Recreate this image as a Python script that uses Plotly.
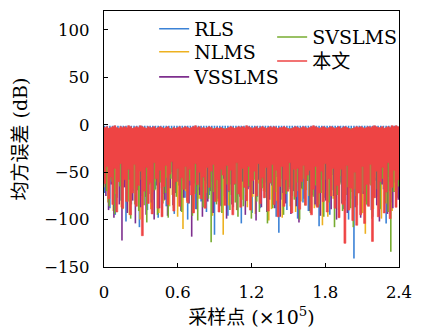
import plotly.graph_objects as go

# Sample axis in units of 1e5 samples
X_MAX = 2.4

# Series names and colours
names = ["RLS", "NLMS", "VSSLMS", "SVSLMS", "本文"]
colors = ["#3b82d6", "#edb120", "#7e2f8e", "#77ac30", "#ee4444"]

# Upper level of each trace (dB)
rls_top = -1.0
nlms_top = -4.0
vsslms_top = -4.0
svslms_top = -4.0

# Per-sample lower excursions of the mean-square error (dB)
rls_low = [
    -72, -55, -88, -63, -95, -48, -80, -66, -102, -58,
    -84, -70, -52, -108, -75, -61, -90, -57, -79, -68,
    -98, -54, -73, -86, -62, -50, -94, -71, -83, -59,
    -77, -100, -64, -53, -89, -69, -81, -56, -92, -74,
    -60, -116, -67, -85, -51, -78, -96, -63, -87, -55,
    -72, -104, -58, -80, -66, -93, -49, -76, -88, -62,
    -61, -70, -57, -84, -97, -114, -79, -52, -90, -68,
    -75, -59, -99, -65, -82, -54, -91, -71, -63, -86,
    -107, -58, -77, -69, -95, -53, -83, -72, -61, -89,
    -74, -100, -66, -141, -80, -57, -92, -70, -85, -63,
    -97, -59, -76, -88, -68, -104, -55, -82, -71, -62,
]
nlms_low = [
    -66, -82, -58, -91, -73, -50, -87, -62, -78, -95,
    -57, -84, -69, -100, -63, -76, -54, -89, -71, -60,
    -93, -67, -80, -56, -86, -74, -61, -97, -52, -110,
    -70, -83, -59, -92, -65, -78, -55, -88, -72, -64,
    -96, -60, -81, -68, -116, -57, -85, -74, -63, -90,
    -53, -79, -66, -87, -58, -76, -94, -62, -83, -70,
    -71, -101, -89, -67, -80, -60, -98, -73, -55, -86,
    -64, -92, -70, -81, -57, -69, -75, -63, -88, -59,
    -84, -106, -72, -97, -61, -78, -66, -90, -54, -82,
    -74, -62, -71, -68, -85, -58, -93, -115, -80, -64,
    -89, -56, -76, -99, -67, -83, -60, -91, -70, -77,
]
vsslms_low = [
    -75, -90, -63, -98, -71, -84, -122, -66, -93, -58,
    -80, -104, -69, -87, -61, -95, -73, -82, -100, -64,
    -88, -56, -79, -96, -67, -85, -72, -60, -91, -77,
    -68, -83, -118, -62, -89, -74, -97, -59, -81, -70,
    -93, -65, -78, -86, -57, -99, -71, -84, -63, -90,
    -76, -60, -95, -68, -82, -73, -101, -58, -87, -66,
    -92, -79, -64, -88, -55, -97, -72, -83, -61, -94,
    -70, -86, -103, -67, -78, -59, -91, -74, -84, -62,
    -96, -69, -80, -57, -89, -75, -100, -65, -83, -71,
    -93, -60, -78, -87, -66, -98, -73, -81, -58, -90,
    -68, -85, -102, -63, -77, -94, -70, -88, -61, -79,
]
svslms_low = [
    -70, -86, -60, -94, -77, -65, -89, -55, -81, -99,
    -67, -74, -91, -58, -85, -103, -63, -79, -69, -95,
    -61, -83, -72, -98, -57, -88, -76, -64, -92, -68,
    -80, -59, -96, -73, -101, -66, -87, -62, -78, -124,
    -71, -84, -56, -93, -75, -63, -90, -69, -82, -97,
    -60, -86, -74, -65, -99, -58, -81, -92, -67, -77,
    -104, -62, -88, -71, -83, -57, -95, -73, -66, -90,
    -79, -61, -100, -68, -85, -59, -93, -76, -64, -87,
    -72, -97, -58, -82, -69, -108, -74, -63, -91, -80,
    -66, -88, -108, -75, -60, -94, -70, -84, -62, -99,
    -77, -68, -89, -57, -83, -92, -134, -71, -86, -65,
]
proposed_top = [
    -3, -2, -4, -3, -2, -1, -3, -4, -2, -3,
    -2, -3, -1, -2, -4, -3, -2, -3, -1, -2,
    -3, -4, -2, -3, -3, -2, -4, -3, -2, -3,
    -4, -3, -2, -4, -5, -3, -4, -3, -2, -4,
    -3, -2, -3, -4, -3, -2, -1, -3, -2, -4,
    -3, -4, -3, -2, -3, -5, -4, -3, -4, -3,
    -4, -5, -4, -3, -2, -3, -4, -3, -2, -3,
    -2, -3, -1, -2, -3, -4, -3, -2, -4, -3,
    -2, -3, -4, -3, -2, -3, -2, -3, -4, -3,
    -3, -2, -3, -4, -5, -4, -3, -2, -3, -4,
    -3, -2, -3, -4, -3, -2, -1, -2, -3, -4,
    -3, -2, -3, -4, -3, -2, -3, -4, -3, -2,
    -4, -3, -2, -3, -4, -5, -4, -3, -2, -3,
    -2, -3, -4, -3, -2, -3, -2, -1, -2, -3,
    -3, -2, -4, -3, -2, -3, -1, -2, -1, -2,
]
proposed_low = [
    -62, -44, -78, -55, -84, -46, -92, -60, -41, -88,
    -58, -81, -47, -95, -72, -42, -86, -64, -49, -117,
    -70, -45, -83, -61, -94, -40, -57, -88, -48, -97,
    -65, -43, -84, -52, -39, -91, -60, -46, -86, -56,
    -68, -44, -82, -47, -74, -93, -41, -63, -50, -78,
    -55, -88, -45, -66, -49, -42, -81, -58, -92, -47,
    -53, -85, -43, -69, -48, -95, -62, -40, -73, -87,
    -46, -66, -80, -44, -90, -59, -49, -75, -41, -83,
    -56, -77, -45, -91, -61, -42, -84, -48, -97, -65,
    -44, -86, -58, -70, -40, -93, -47, -76, -46, -89,
    -60, -43, -85, -53, -48, -95, -68, -44, -87, -72,
    -49, -81, -41, -92, -57, -75, -46, -88, -64, -98,
    -47, -84, -125, -43, -90, -67, -101, -50, -106, -72,
    -95, -44, -104, -63, -86, -42, -123, -77, -49, -97,
    -60, -45, -93, -71, -40, -99, -66, -48, -87, -58,
]

x_ticks = [0, 0.6, 1.2, 1.8, 2.4]
y_ticks = [-150, -100, -50, 0, 50, 100]
y_tick_text = ["\u2212150", "\u2212100", "\u221250", "0", "50", "100"]

FONT = "DejaVu Serif, Noto Sans CJK SC"

# One legend box per entry so each row sits at its own spot
legend_rows = [
    ("legend", 0.17, 0.93),
    ("legend2", 0.17, 0.84),
    ("legend3", 0.17, 0.742),
    ("legend4", 0.57, 0.898),
    ("legend5", 0.57, 0.804),
]


def stems(lows, tops, offset):
    """Vertical excursions from top to low at evenly spread sample positions."""
    n = len(lows)
    step = X_MAX / n
    xs, ys = [], []
    for i, lo in enumerate(lows):
        xi = (i + offset) * step
        xs += [xi, xi, None]
        ys += [tops, lo, None]
    return xs, ys


series = [
    (rls_low, rls_top, 0.2),
    (nlms_low, nlms_top, 0.45),
    (vsslms_low, vsslms_top, 0.7),
    (svslms_low, svslms_top, 0.95),
]

fig = go.Figure()
for k, ((lows, tops, off), name, col) in enumerate(zip(series, names[:4], colors[:4])):
    xs, ys = stems(lows, tops, off)
    fig.add_trace(go.Scatter(x=xs, y=ys, mode="lines", name=name,
                             line=dict(color=col, width=1.6), legend=legend_rows[k][0]))

# Proposed method: solid band, one step-wide column per sample
n_red = len(proposed_low)
step = X_MAX / n_red
top_x, top_y, low_x, low_y = [], [], [], []
for i, (lo, hi) in enumerate(zip(proposed_low, proposed_top)):
    x0, x1 = i * step, (i + 1) * step
    top_x += [x0, x1]
    top_y += [hi, hi]
    low_x += [x0, x1]
    low_y += [lo, lo]
poly_x = top_x + low_x[::-1] + [top_x[0]]
poly_y = top_y + low_y[::-1] + [top_y[0]]
fig.add_trace(go.Scatter(x=poly_x, y=poly_y, mode="lines", fill="toself",
                         fillcolor=colors[4], line=dict(color=colors[4], width=0.6),
                         showlegend=False, hoverinfo="skip"))
fig.add_trace(go.Scatter(x=[None], y=[None], mode="lines", name=names[4],
                         line=dict(color=colors[4], width=1.6), legend="legend5"))

axis_common = dict(showline=True, linecolor="black", linewidth=1.2, mirror=True,
                   ticks="inside", ticklen=4, tickcolor="black", showgrid=False,
                   zeroline=False, tickfont=dict(family=FONT, size=16.5, color="black"))

layout_legends = {}
for key, lx, ly in legend_rows:
    layout_legends[key] = dict(x=lx, y=ly, xanchor="left", yanchor="middle",
                               bgcolor="rgba(0,0,0,0)", itemwidth=30,
                               font=dict(family=FONT, size=19, color="black"))

fig.update_layout(
    width=422, height=336,
    margin=dict(l=104, r=16, t=10, b=69),
    paper_bgcolor="white", plot_bgcolor="white",
    font=dict(family=FONT, size=17, color="black"),
    xaxis=dict(range=[0, X_MAX], tickvals=x_ticks, ticktext=[str(t) for t in x_ticks],
               ticklabelstandoff=10,
               title=dict(text="采样点 (×10<sup>5</sup>)", standoff=9,
                          font=dict(family=FONT, size=19)),
               **axis_common),
    yaxis=dict(range=[-150, 120], tickvals=y_ticks, ticktext=y_tick_text,
               ticklabelstandoff=10,
               title=dict(text="均方误差 (dB)", standoff=11,
                          font=dict(family=FONT, size=19)),
               **axis_common),
    showlegend=True,
    **layout_legends,
)

fig.write_html("out.html")
